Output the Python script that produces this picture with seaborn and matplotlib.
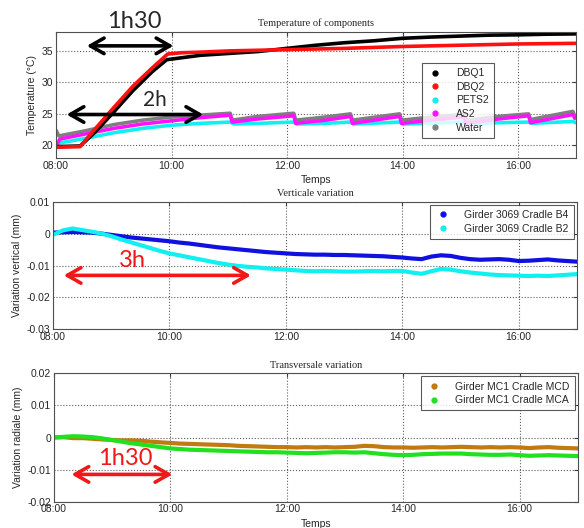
import matplotlib
matplotlib.use("Agg")
import matplotlib.pyplot as plt
import matplotlib.dates as mdates
from matplotlib.lines import Line2D
from matplotlib.ticker import FormatStrFormatter
import seaborn as sns
import pandas as pd

DAY = "2013-05-01 "

# ---- temperature of components (irregular readings, HH:MM) ----
dbq1_t = ["08:00", "08:25", "08:40", "09:00", "09:20", "09:40", "09:55", "10:10", "10:30", "11:00", "11:30",
          "12:00", "12:30", "13:00", "13:30", "14:00", "14:30", "15:00", "15:30", "16:00", "16:30", "17:00"]
dbq1_v = [19.8, 19.9, 22.0, 25.3, 28.7, 31.7, 33.6, 33.9, 34.3, 34.6, 34.9,
          35.4, 35.9, 36.3, 36.6, 37.0, 37.2, 37.35, 37.5, 37.55, 37.65, 37.7]

dbq2_t = ["08:00", "08:25", "08:40", "09:00", "09:20", "09:40", "09:56", "10:10", "10:30", "11:00", "11:30",
          "12:00", "12:30", "13:00", "13:30", "14:00", "14:30", "15:00", "15:30", "16:00", "16:30", "17:00"]
dbq2_v = [19.7, 19.8, 22.5, 26.0, 29.4, 32.3, 34.5, 34.7, 34.8, 35.0, 35.1,
          35.2, 35.3, 35.4, 35.55, 35.7, 35.8, 35.9, 36.0, 36.1, 36.15, 36.2]

water_t = ["08:00", "08:03", "08:30", "09:00", "09:30", "10:00", "10:30", "11:01", "11:03", "11:30", "12:07",
           "12:09", "12:40", "13:06", "13:08", "13:57", "13:59", "14:30", "15:04", "15:06", "15:40", "16:11",
           "16:13", "16:57", "16:59"]
water_v = [22.4, 21.5, 22.3, 23.3, 24.0, 24.5, 24.8, 25.1, 24.0, 24.6, 25.1,
           24.0, 24.5, 25.0, 24.0, 25.0, 24.0, 24.5, 24.9, 24.0, 24.6, 25.0,
           24.1, 25.4, 24.6]

as2_t = ["08:00", "08:04", "08:30", "09:00", "09:30", "10:00", "10:30", "11:01", "11:03", "11:30", "12:07",
         "12:09", "12:40", "13:06", "13:08", "13:57", "13:59", "14:30", "15:04", "15:06", "15:40", "16:11",
         "16:13", "16:57", "16:59"]
as2_v = [19.9, 21.0, 21.8, 22.7, 23.4, 23.9, 24.4, 24.8, 23.7, 24.2, 24.7,
         23.5, 24.0, 24.6, 23.5, 24.6, 23.5, 24.0, 24.5, 23.5, 24.2, 24.7,
         23.6, 24.9, 24.3]

pets2_t = ["08:00", "08:04", "08:30", "09:00", "09:30", "10:00", "10:30", "11:01", "11:05", "11:30", "12:07",
           "12:10", "12:40", "13:06", "13:09", "13:57", "14:00", "14:30", "15:04", "15:07", "15:40", "16:11",
           "16:14", "16:57", "17:00"]
pets2_v = [19.8, 20.4, 21.1, 22.0, 22.7, 23.2, 23.5, 23.7, 23.4, 23.5, 23.7,
           23.4, 23.5, 23.7, 23.4, 23.7, 23.4, 23.5, 23.7, 23.4, 23.6, 23.7,
           23.5, 23.8, 23.6]

# ---- displacements, one reading every 10 minutes from 08:00 to 17:00 ----
b4 = [0.0003, 0.0004, 0.0005, 0.0004, 0.0003, 0.0000,
      -0.0004, -0.0008, -0.0012, -0.0015, -0.0018, -0.0021,
      -0.0024, -0.0028, -0.0031, -0.0035, -0.0039, -0.0043,
      -0.0046, -0.0049, -0.0052, -0.0055, -0.0058, -0.0060,
      -0.0062, -0.0064, -0.0065, -0.0066, -0.0066, -0.0067,
      -0.0067, -0.0068, -0.0069, -0.0070, -0.0071, -0.0073,
      -0.0075, -0.0078, -0.0080, -0.0072, -0.0068, -0.0070,
      -0.0076, -0.0080, -0.0082, -0.0081, -0.0080, -0.0082,
      -0.0086, -0.0085, -0.0083, -0.0081, -0.0084, -0.0086,
      -0.0088]
b2 = [-0.0004, 0.0010, 0.0016, 0.0011, 0.0006, 0.0000,
      -0.0008, -0.0018, -0.0027, -0.0036, -0.0045, -0.0054,
      -0.0062, -0.0068, -0.0074, -0.0080, -0.0086, -0.0092,
      -0.0097, -0.0101, -0.0104, -0.0106, -0.0109, -0.0111,
      -0.0113, -0.0115, -0.0117, -0.0118, -0.0117, -0.0118,
      -0.0119, -0.0119, -0.0118, -0.0117, -0.0118, -0.0117,
      -0.0117, -0.0122, -0.0126, -0.0118, -0.0111, -0.0113,
      -0.0118, -0.0122, -0.0125, -0.0128, -0.0130, -0.0131,
      -0.0132, -0.0133, -0.0132, -0.0133, -0.0131, -0.0129,
      -0.0127]
mcd = [0.0000, 0.0001, -0.0002, -0.0002, -0.0004, -0.0006,
       -0.0008, -0.0009, -0.0009, -0.0010, -0.0013, -0.0015,
       -0.0017, -0.0019, -0.0020, -0.0021, -0.0022, -0.0023,
       -0.0024, -0.0026, -0.0027, -0.0028, -0.0029, -0.0030,
       -0.0030, -0.0031, -0.0030, -0.0031, -0.0030, -0.0031,
       -0.0030, -0.0029, -0.0026, -0.0027, -0.0030, -0.0031,
       -0.0031, -0.0032, -0.0031, -0.0030, -0.0031, -0.0030,
       -0.0029, -0.0030, -0.0031, -0.0030, -0.0031, -0.0030,
       -0.0031, -0.0033, -0.0031, -0.0030, -0.0032, -0.0033,
       -0.0034]
mca = [0.0000, 0.0002, 0.0004, 0.0003, 0.0001, -0.0003,
       -0.0008, -0.0013, -0.0018, -0.0022, -0.0026, -0.0030,
       -0.0034, -0.0036, -0.0038, -0.0039, -0.0040, -0.0041,
       -0.0042, -0.0043, -0.0044, -0.0045, -0.0046, -0.0046,
       -0.0047, -0.0048, -0.0049, -0.0048, -0.0047, -0.0046,
       -0.0046, -0.0047, -0.0046, -0.0049, -0.0052, -0.0054,
       -0.0055, -0.0054, -0.0052, -0.0051, -0.0050, -0.0050,
       -0.0050, -0.0052, -0.0053, -0.0054, -0.0054, -0.0053,
       -0.0055, -0.0057, -0.0056, -0.0055, -0.0056, -0.0057,
       -0.0058]
grid_t = pd.date_range(DAY + "08:00", DAY + "17:00", freq="10min")


def hm(lst):
    return pd.to_datetime([DAY + s for s in lst])


sns.set_style("white")
plt.rcParams["font.family"] = ["Liberation Sans", "DejaVu Sans"]

fig = plt.figure(figsize=(5.84, 5.28), dpi=100)
ax1 = fig.add_axes([0.0959, 0.7008, 0.890, 0.2386])
ax2 = fig.add_axes([0.0908, 0.3763, 0.897, 0.2417])
ax3 = fig.add_axes([0.0925, 0.0498, 0.897, 0.2432])

temp = [("DBQ1", dbq1_t, dbq1_v, "black"), ("DBQ2", dbq2_t, dbq2_v, "#ff1010"),
        ("PETS2", pets2_t, pets2_v, "#10f0f0"), ("AS2", as2_t, as2_v, "#ff10ff"),
        ("Water", water_t, water_v, "#7f7f7f")]
# draw grey water first so the others sit on top as in the reference
for name, t, v, c in [temp[4], temp[2], temp[3], temp[0], temp[1]]:
    sns.lineplot(x=hm(t), y=v, ax=ax1, color=c, linewidth=2.6, estimator=None, sort=False)

for v, c in [(b4, "#1010e0"), (b2, "#10f0f0")]:
    sns.lineplot(x=grid_t, y=v, ax=ax2, color=c, linewidth=3, estimator=None)
for v, c in [(mcd, "#c07a10"), (mca, "#20e020")]:
    sns.lineplot(x=grid_t, y=v, ax=ax3, color=c, linewidth=3, estimator=None)

t0, t1 = pd.Timestamp(DAY + "08:00"), pd.Timestamp(DAY + "17:00")
for ax in (ax1, ax2, ax3):
    ax.set_xlim(t0, t1)
    ax.xaxis.set_major_locator(mdates.HourLocator(byhour=[8, 10, 12, 14, 16]))
    ax.xaxis.set_major_formatter(mdates.DateFormatter("%H:%M"))
    ax.grid(True, linestyle=":", color="#606060", linewidth=0.8)
    ax.tick_params(direction="in", top=True, right=True, length=3, labelsize=7.5,
                   pad=2, color="#404040")
    for s in ax.spines.values():
        s.set_color("#505050")
        s.set_linewidth(0.8)
    ax.yaxis.set_major_formatter(FormatStrFormatter("%g"))

ax1.set_ylim(18, 38)
ax1.set_yticks([20, 25, 30, 35])
ax2.set_ylim(-0.03, 0.01)
ax2.set_yticks([-0.03, -0.02, -0.01, 0, 0.01])
ax3.set_ylim(-0.02, 0.02)
ax3.set_yticks([-0.02, -0.01, 0, 0.01, 0.02])

tfont = dict(family=["Liberation Serif", "DejaVu Serif"], fontsize=7.5)
ax1.set_title("Temperature of components", pad=4, **tfont)
ax2.set_title("Verticale variation", pad=4, **tfont)
ax3.set_title("Transversale variation", pad=4, **tfont)

ax1.set_ylabel("Temperature (°C)", fontsize=7.5, labelpad=3)
ax2.set_ylabel("Variation vertical (mm)", fontsize=7.5, labelpad=3)
ax3.set_ylabel("Variation radiale (mm)", fontsize=7.5, labelpad=3)
ax1.set_xlabel("Temps", fontsize=7.5, labelpad=3)
ax2.set_xlabel("")
ax3.set_xlabel("Temps", fontsize=7.5, labelpad=3)


def handles(pairs):
    return [Line2D([], [], marker=".", linestyle="none", color=c, markersize=7, label=n) for n, c in pairs]


leg_kw = dict(fontsize=7.5, frameon=True, fancybox=False, handlelength=1.6, handletextpad=1.2,
              borderpad=0.5, labelspacing=0.35)
l1 = ax1.legend(handles=handles([(n, c) for n, _, _, c in temp]), loc="upper left",
                bbox_to_anchor=(0.704, 0.754), borderaxespad=0, **leg_kw)
l2 = ax2.legend(handles=handles([("Girder 3069 Cradle B4", "#1010e0"), ("Girder 3069 Cradle B2", "#10f0f0")]),
                loc="upper right", borderaxespad=0.3, **leg_kw)
l3 = ax3.legend(handles=handles([("Girder MC1 Cradle MCD", "#c07a10"), ("Girder MC1 Cradle MCA", "#20e020")]),
                loc="upper right", borderaxespad=0.3, **leg_kw)
for lg in (l1, l2, l3):
    lg.get_frame().set_edgecolor("#303030")
    lg.get_frame().set_linewidth(0.8)


def tm(s):
    return mdates.date2num(pd.Timestamp(DAY + s))


def span(ax, a, b, y, color):
    ax.annotate("", xy=(tm(a), y), xytext=(tm(b), y), annotation_clip=False,
                arrowprops=dict(arrowstyle="<->,head_length=0.7,head_width=0.4", lw=2.6,
                                color=color, mutation_scale=14, shrinkA=0, shrinkB=0))


afont = ["Lato", "DejaVu Sans"]
span(ax1, "08:32", "10:02", 35.8, "black")
ax1.text(tm("09:21"), 39.6, "1h30", fontsize=17, family=afont, ha="center", va="center", clip_on=False)
span(ax1, "08:11", "10:33", 24.9, "black")
ax1.text(tm("09:43"), 27.2, "2h", fontsize=15, family=afont, ha="center", va="center")

span(ax2, "08:11", "11:24", -0.0131, "#f01818")
ax2.text(tm("09:22"), -0.0085, "3h", fontsize=17, family=afont, color="#f01818", ha="center", va="center")

span(ax3, "08:18", "10:02", -0.0115, "#f01818")
ax3.text(tm("09:13"), -0.0066, "1h30", fontsize=17, family=afont, color="#f01818", ha="center", va="center")

fig.savefig("out.png", dpi=100)
